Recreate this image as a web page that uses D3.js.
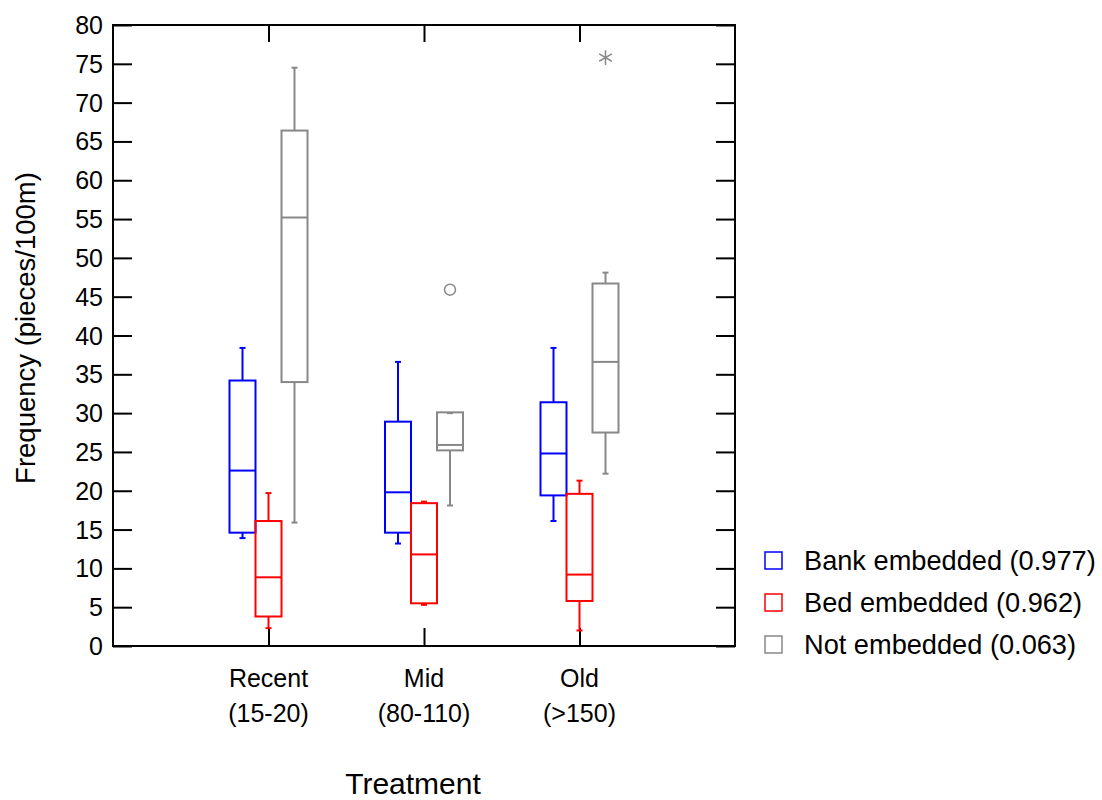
<!DOCTYPE html>
<html lang="en">
<head>
  <meta charset="UTF-8" />
  <title>Frequency by Treatment</title>
  <script src="https://d3js.org/d3.v7.min.js"></script>
  <style>
    body { margin: 0; background: #fff; font-family: "Liberation Sans", Arial, sans-serif; }
    svg text { fill: #000; }
  </style>
</head>
<body>
  <svg width="1102" height="800"></svg>

  <script>
    // ---- data ----
    const categories = ["Recent|(15-20)", "Mid|(80-110)", "Old|(>150)"];
    const seriesNames = ["Bank embedded (0.977)", "Bed embedded (0.962)", "Not embedded (0.063)"];
    const seriesColors = ["#0000ff", "#ff0000", "#888888"];

    // one row per series, one value per category
    const whiskerLow  = [[13.9, 13.2, 16.1], [2.3, 5.3, 2.0], [15.9, 18.1, 22.2]];
    const q1          = [[14.6, 14.6, 19.4], [3.8, 5.5, 5.8], [34.0, 25.2, 27.5]];
    const median      = [[22.6, 19.8, 24.8], [8.85, 11.8, 9.2], [55.2, 25.9, 36.6]];
    const q3          = [[34.2, 28.9, 31.4], [16.1, 18.4, 19.6], [66.4, 30.1, 46.7]];
    const whiskerHigh = [[38.4, 36.6, 38.4], [19.7, 18.6, 21.3], [74.5, 30.0, 48.1]];

    // outliers: series index, category index, value, kind
    const outliers = [
      { s: 2, c: 1, v: 45.9, kind: "circle" },
      { s: 2, c: 2, v: 75.8, kind: "star" }
    ];

    const yTicks = d3.range(0, 81, 5);

    // ---- layout ----
    const plotLeft = 113, plotRight = 735, plotTop = 25, plotBottom = 646;
    const svg = d3.select("svg");

    const x = d3.scaleLinear().domain([0, 4]).range([plotLeft, plotRight]);
    const y = d3.scaleLinear().domain([0, 80]).range([plotBottom, plotTop]);
    const offset = d3.scalePoint().domain(d3.range(seriesNames.length)).range([-26, 26]);
    const boxW = 26, capW = 6;

    // frame
    svg.append("rect")
      .attr("x", plotLeft).attr("y", plotTop)
      .attr("width", plotRight - plotLeft).attr("height", plotBottom - plotTop)
      .attr("fill", "none").attr("stroke", "#000").attr("stroke-width", 2);

    // left axis (ticks pointing inward)
    const yAxisL = svg.append("g")
      .attr("transform", `translate(${plotLeft},0)`)
      .call(d3.axisRight(y).tickValues(yTicks).tickSize(19).tickFormat(""));
    yAxisL.select(".domain").remove();
    yAxisL.selectAll("line").attr("stroke-width", 2);

    svg.append("g").selectAll("text")
      .data(yTicks).join("text")
      .attr("x", plotLeft - 10).attr("y", d => y(d))
      .attr("dy", "0.36em")
      .attr("text-anchor", "end")
      .attr("font-size", 25)
      .text(d => d);

    // right axis ticks
    const yAxisR = svg.append("g")
      .attr("transform", `translate(${plotRight},0)`)
      .call(d3.axisLeft(y).tickValues(yTicks).tickSize(19).tickFormat(""));
    yAxisR.select(".domain").remove();
    yAxisR.selectAll("line").attr("stroke-width", 2);

    // top and bottom ticks at categories
    const catPos = d3.range(1, categories.length + 1);
    const xTop = svg.append("g")
      .attr("transform", `translate(0,${plotTop})`)
      .call(d3.axisBottom(x).tickValues(catPos).tickSize(17).tickFormat(""));
    xTop.select(".domain").remove();
    xTop.selectAll("line").attr("stroke-width", 2);

    const xBot = svg.append("g")
      .attr("transform", `translate(0,${plotBottom})`)
      .call(d3.axisTop(x).tickValues(catPos).tickSize(18).tickFormat(""));
    xBot.select(".domain").remove();
    xBot.selectAll("line").attr("stroke-width", 2);

    // category labels
    categories.forEach((c, i) => {
      const parts = c.split("|");
      const t = svg.append("text")
        .attr("x", x(i + 1)).attr("y", 687)
        .attr("text-anchor", "middle")
        .attr("font-size", 25);
      parts.forEach((p, k) => {
        t.append("tspan").attr("x", x(i + 1)).attr("dy", k === 0 ? 0 : 35).text(p);
      });
    });

    // axis titles
    svg.append("text")
      .attr("x", 413).attr("y", 794)
      .attr("text-anchor", "middle")
      .attr("font-size", 30)
      .text("Treatment");

    svg.append("text")
      .attr("transform", `translate(35,328) rotate(-90)`)
      .attr("text-anchor", "middle")
      .attr("font-size", 27.5)
      .text("Frequency (pieces/100m)");

    // ---- boxes ----
    seriesNames.forEach((name, s) => {
      const g = svg.append("g")
        .attr("stroke", seriesColors[s])
        .attr("fill", "none")
        .attr("stroke-width", 2);
      categories.forEach((c, i) => {
        const cx = x(i + 1) + offset(s);
        // whiskers
        g.append("line").attr("x1", cx).attr("x2", cx)
          .attr("y1", y(q3[s][i])).attr("y2", y(whiskerHigh[s][i]));
        g.append("line").attr("x1", cx).attr("x2", cx)
          .attr("y1", y(q1[s][i])).attr("y2", y(whiskerLow[s][i]));
        g.append("line").attr("x1", cx - capW / 2).attr("x2", cx + capW / 2)
          .attr("y1", y(whiskerHigh[s][i])).attr("y2", y(whiskerHigh[s][i]));
        g.append("line").attr("x1", cx - capW / 2).attr("x2", cx + capW / 2)
          .attr("y1", y(whiskerLow[s][i])).attr("y2", y(whiskerLow[s][i]));
        // box
        g.append("rect")
          .attr("x", cx - boxW / 2).attr("width", boxW)
          .attr("y", y(q3[s][i])).attr("height", y(q1[s][i]) - y(q3[s][i]))
          .attr("fill", "none");
        // median
        g.append("line").attr("x1", cx - boxW / 2).attr("x2", cx + boxW / 2)
          .attr("y1", y(median[s][i])).attr("y2", y(median[s][i]));
      });
    });

    // outliers
    outliers.forEach(o => {
      const cx = x(o.c + 1) + offset(o.s);
      if (o.kind === "circle") {
        svg.append("circle")
          .attr("cx", cx).attr("cy", y(o.v)).attr("r", 5.5)
          .attr("fill", "none").attr("stroke", seriesColors[o.s]).attr("stroke-width", 1.5);
      } else {
        svg.append("path")
          .attr("transform", `translate(${cx},${y(o.v)})`)
          .attr("d", d3.symbol().type(d3.symbolAsterisk).size(150)())
          .attr("fill", "none").attr("stroke", seriesColors[o.s]).attr("stroke-width", 1.5);
      }
    });

    // ---- legend ----
    const legend = svg.append("g").attr("transform", "translate(765,560)");
    seriesNames.forEach((name, s) => {
      const row = legend.append("g").attr("transform", `translate(0,${s * 42})`);
      row.append("rect")
        .attr("x", 0).attr("y", -8).attr("width", 17).attr("height", 17)
        .attr("fill", "none").attr("stroke", seriesColors[s]).attr("stroke-width", 1.5);
      row.append("text")
        .attr("x", 39).attr("y", 0).attr("dy", "0.36em")
        .attr("font-size", 27.2)
        .text(name);
    });
  </script>
</body>
</html>
